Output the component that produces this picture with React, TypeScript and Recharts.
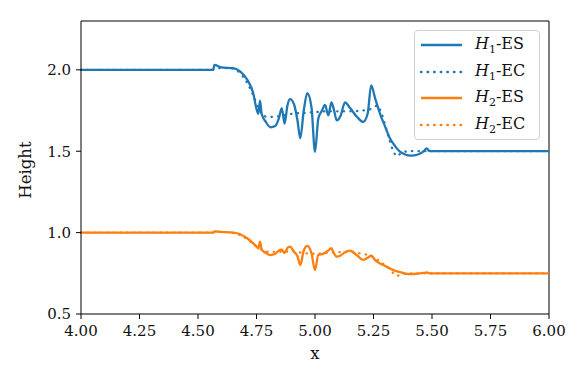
import { LineChart, Line, XAxis, YAxis, ReferenceLine, Label } from 'recharts'

// x positions and heights
const xES = [4.0, 4.3, 4.565, 4.57, 4.6, 4.65, 4.68, 4.71, 4.736, 4.75, 4.758, 4.765, 4.772, 4.79, 4.81, 4.83, 4.845, 4.858, 4.87, 4.882, 4.893, 4.91, 4.925, 4.937, 4.952, 4.967, 4.985, 5.0, 5.014, 5.03, 5.043, 5.057, 5.07, 5.08, 5.093, 5.11, 5.128, 5.15, 5.18, 5.206, 5.225, 5.24, 5.258, 5.278, 5.3, 5.32, 5.343, 5.363, 5.385, 5.41, 5.44, 5.465, 5.477, 5.49, 5.6, 6.0]
const h1ES = [2.0, 2.0, 2.0, 2.03, 2.015, 2.01, 1.99, 1.94, 1.856, 1.76, 1.73, 1.81, 1.73, 1.68, 1.647, 1.655, 1.7, 1.765, 1.67, 1.78, 1.82, 1.79, 1.69, 1.58, 1.75, 1.856, 1.77, 1.497, 1.7, 1.75, 1.784, 1.72, 1.8, 1.76, 1.69, 1.72, 1.8, 1.765, 1.71, 1.68, 1.73, 1.905, 1.82, 1.73, 1.65, 1.58, 1.53, 1.497, 1.48, 1.473, 1.48, 1.5, 1.518, 1.5, 1.5, 1.5]
const h2ES = [1.0, 1.0, 1.0, 1.008, 1.004, 1.0, 0.99, 0.965, 0.934, 0.915, 0.904, 0.944, 0.897, 0.875, 0.862, 0.87, 0.889, 0.895, 0.875, 0.905, 0.914, 0.883, 0.855, 0.8, 0.89, 0.918, 0.873, 0.77, 0.862, 0.868, 0.877, 0.89, 0.904, 0.875, 0.852, 0.86, 0.88, 0.889, 0.86, 0.832, 0.845, 0.858, 0.83, 0.81, 0.795, 0.78, 0.765, 0.758, 0.748, 0.745, 0.748, 0.752, 0.755, 0.75, 0.75, 0.75]

const xEC = [4.0, 4.56, 4.58, 4.64, 4.68, 4.71, 4.74, 4.76, 4.78, 4.8, 4.85, 4.9, 4.95, 5.0, 5.05, 5.1, 5.15, 5.2, 5.24, 5.265, 5.285, 5.3, 5.32, 5.335, 5.35, 5.37, 5.4, 6.0]
const h1EC = [2.0, 2.0, 2.01, 2.01, 1.98, 1.92, 1.83, 1.76, 1.72, 1.71, 1.715, 1.73, 1.735, 1.74, 1.745, 1.745, 1.745, 1.75, 1.76, 1.78, 1.73, 1.66, 1.56, 1.5, 1.47, 1.49, 1.5, 1.5]
const h2EC = [1.0, 1.0, 1.005, 1.0, 0.985, 0.96, 0.925, 0.905, 0.89, 0.882, 0.882, 0.885, 0.875, 0.87, 0.875, 0.88, 0.88, 0.87, 0.856, 0.835, 0.815, 0.8, 0.775, 0.75, 0.735, 0.745, 0.75, 0.75]

const xTicks = [4.0, 4.25, 4.5, 4.75, 5.0, 5.25, 5.5, 5.75, 6.0]
const yTicks = [0.5, 1.0, 1.5, 2.0]

const BLUE = '#1f77b4'
const ORANGE = '#ff7f0e'
const FONT = 'DejaVu Serif'
const DOTS = '0.4 6.2'

const toRows = (xs: number[], ys: number[]) => xs.map((x, i) => ({ x, y: ys[i] }))

const series = [
  { name: 'H1-ES', sub: '1', tag: 'ES', color: BLUE, dash: undefined as string | undefined, data: toRows(xES, h1ES) },
  { name: 'H1-EC', sub: '1', tag: 'EC', color: BLUE, dash: DOTS, data: toRows(xEC, h1EC) },
  { name: 'H2-ES', sub: '2', tag: 'ES', color: ORANGE, dash: undefined, data: toRows(xES, h2ES) },
  { name: 'H2-EC', sub: '2', tag: 'EC', color: ORANGE, dash: DOTS, data: toRows(xEC, h2EC) },
]

const tickStyle = { fontFamily: FONT, fontSize: 15, fill: '#111' }
const titleStyle = { fontFamily: FONT, fontSize: 16.5, fill: '#111' }

const LegendBox = () => (
  <div
    style={{
      position: 'absolute',
      left: 414,
      top: 30,
      width: 126,
      height: 110,
      border: '1px solid #d0d0d0',
      borderRadius: 4,
      background: 'rgba(255,255,255,0.8)',
      fontFamily: FONT,
      fontSize: 16,
      color: '#111',
      boxSizing: 'border-box',
    }}
  >
    {series.map((s, i) => (
      <div key={s.name} style={{ position: 'absolute', left: 0, top: 1 + i * 26.7, height: 26, display: 'flex', alignItems: 'center' }}>
        <svg width={58} height={26} style={{ display: 'block' }}>
          <line x1={6} x2={47} y1={13} y2={13} stroke={s.color} strokeWidth={2.5} strokeDasharray={s.dash} strokeLinecap={s.dash ? 'round' : 'butt'} />
        </svg>
        <span style={{ whiteSpace: 'nowrap', marginLeft: 2 }}>
          <i>H</i>
          <sub style={{ fontSize: 11 }}>{s.sub}</sub>-{s.tag}
        </span>
      </div>
    ))}
  </div>
)

export default function App() {
  return (
    <div style={{ position: 'absolute', left: 0, top: 0, width: 582, height: 388, background: '#fff' }}>
      <LineChart width={582} height={388} margin={{ top: 21, right: 33, bottom: 24, left: 0 }}>
        <XAxis
          type="number"
          dataKey="x"
          domain={[4, 6]}
          ticks={xTicks}
          allowDuplicatedCategory={false}
          tickFormatter={(v: number) => v.toFixed(2)}
          tick={tickStyle}
          tickSize={5}
          tickMargin={6}
          height={50}
          stroke="#000"
          axisLine={{ stroke: '#000' }}
          tickLine={{ stroke: '#000' }}
        >
          <Label
            content={() => (
              <text x={315} y={359} textAnchor="middle" style={titleStyle}>
                x
              </text>
            )}
          />
        </XAxis>
        <YAxis
          type="number"
          domain={[0.5, 2.3]}
          ticks={yTicks}
          tickFormatter={(v: number) => v.toFixed(1)}
          tick={tickStyle}
          tickSize={5}
          tickMargin={5}
          width={81}
          stroke="#000"
          axisLine={{ stroke: '#000' }}
          tickLine={{ stroke: '#000' }}
        >
          <Label
            content={() => (
              <text x={31} y={170} transform="rotate(-90 31 170)" textAnchor="middle" style={titleStyle}>
                Height
              </text>
            )}
          />
        </YAxis>
        <ReferenceLine y={2.3} stroke="#000" strokeWidth={1} />
        <ReferenceLine x={6} stroke="#000" strokeWidth={1} />
        {series.map((s) => (
          <Line
            key={s.name}
            data={s.data}
            dataKey="y"
            type="monotone"
            stroke={s.color}
            strokeWidth={2.3}
            strokeDasharray={s.dash}
            strokeLinecap={s.dash ? 'round' : 'butt'}
            dot={false}
            activeDot={false}
            isAnimationActive={false}
          />
        ))}
      </LineChart>
      <LegendBox />
    </div>
  )
}
